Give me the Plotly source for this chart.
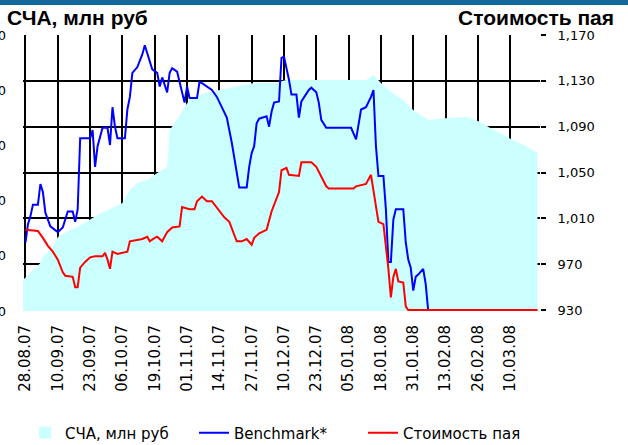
import plotly.graph_objects as go

# ---- data ----
nav_dates = ["2007-08-27","2007-08-30","2007-09-03","2007-09-04","2007-09-08","2007-09-10",
             "2007-09-15","2007-09-18","2007-09-24","2007-09-28","2007-10-02","2007-10-06",
             "2007-10-09","2007-10-12","2007-10-16","2007-10-20","2007-10-24","2007-10-25",
             "2007-10-28","2007-10-31","2007-11-02","2007-11-08","2007-11-14","2007-11-20",
             "2007-11-28","2007-12-06","2007-12-11","2007-12-29","2008-01-12","2008-01-15",
             "2008-01-18","2008-01-22","2008-01-27","2008-01-31","2008-02-06","2008-02-14",
             "2008-02-22","2008-02-27","2008-03-02","2008-03-06","2008-03-11","2008-03-17",
             "2008-03-21"]
nav_values = [281,344,435,489,580,670,734,761,842,897,933,978,1096,1159,1187,1250,1304,1640,
              1730,1848,1911,1975,2002,2029,2065,2065,2092,2092,2092,2138,2065,1984,1911,1820,
              1730,1748,1757,1712,1658,1612,1549,1486,1431]

bench_dates = ["2007-08-28","2007-08-29","2007-08-30","2007-08-31","2007-09-02","2007-09-03",
               "2007-09-04","2007-09-05","2007-09-07","2007-09-09","2007-09-10","2007-09-12",
               "2007-09-14","2007-09-16","2007-09-17","2007-09-18","2007-09-19","2007-09-23",
               "2007-09-24","2007-09-25","2007-09-26","2007-09-28","2007-09-30","2007-10-01",
               "2007-10-02","2007-10-03","2007-10-04","2007-10-07","2007-10-08","2007-10-09",
               "2007-10-10","2007-10-12","2007-10-14","2007-10-15","2007-10-16","2007-10-18",
               "2007-10-20","2007-10-21","2007-10-22","2007-10-24","2007-10-25","2007-10-26",
               "2007-10-28","2007-10-30","2007-10-31","2007-11-01","2007-11-02","2007-11-05",
               "2007-11-06","2007-11-07","2007-11-11","2007-11-13","2007-11-15","2007-11-17",
               "2007-11-19","2007-11-21","2007-11-22","2007-11-25","2007-11-26","2007-11-27",
               "2007-11-28","2007-11-29","2007-11-30","2007-12-03","2007-12-04","2007-12-05",
               "2007-12-06","2007-12-08","2007-12-09","2007-12-10","2007-12-11","2007-12-12",
               "2007-12-13","2007-12-15","2007-12-16","2007-12-17","2007-12-20","2007-12-21",
               "2007-12-23","2007-12-24","2007-12-25","2007-12-27","2008-01-06","2008-01-08",
               "2008-01-10","2008-01-12","2008-01-14","2008-01-15","2008-01-16","2008-01-17",
               "2008-01-19","2008-01-20","2008-01-21","2008-01-22","2008-01-23","2008-01-24",
               "2008-01-27","2008-01-28","2008-01-29","2008-01-30","2008-01-31","2008-02-01",
               "2008-02-02","2008-02-04","2008-02-05","2008-02-06"]
bench_values = [989,1005,1012,1022,1022,1040,1033,1015,1003,1000,998,1002,1016,1016,1007,1018,
                1080,1080,1087,1055,1073,1089,1089,1074,1107,1090,1080,1080,1105,1116,1137,1142,
                1153,1161,1154,1140,1137,1125,1133,1120,1137,1141,1138,1120,1111,1125,1115,1115,
                1129,1128,1122,1116,1107,1098,1076,1050,1037,1037,1055,1067,1073,1093,1097,1099,
                1090,1103,1111,1112,1150,1151,1142,1131,1118,1118,1098,1112,1122,1124,1120,1111,
                1096,1089,1089,1079,1105,1107,1116,1122,1073,1047,1047,1018,972,972,1009,1018,
                1018,989,974,967,947,959,961,966,953,930]

unit_dates = ["2007-08-28","2007-09-02","2007-09-04","2007-09-06","2007-09-08","2007-09-10",
              "2007-09-12","2007-09-13","2007-09-16","2007-09-17","2007-09-18","2007-09-19",
              "2007-09-21","2007-09-23","2007-09-25","2007-09-28","2007-09-29","2007-09-30",
              "2007-10-01","2007-10-02","2007-10-04","2007-10-08","2007-10-09","2007-10-14",
              "2007-10-16","2007-10-17","2007-10-19","2007-10-20","2007-10-22","2007-10-24",
              "2007-10-26","2007-10-29","2007-10-30","2007-11-02","2007-11-04","2007-11-05",
              "2007-11-07","2007-11-09","2007-11-11","2007-11-14","2007-11-16","2007-11-18",
              "2007-11-20","2007-11-21","2007-11-23","2007-11-25","2007-11-27","2007-11-28",
              "2007-11-30","2007-12-03","2007-12-05","2007-12-07","2007-12-08","2007-12-09",
              "2007-12-11","2007-12-12","2007-12-16","2007-12-17","2007-12-21","2007-12-23",
              "2007-12-25","2007-12-27","2007-12-28","2008-01-07","2008-01-08","2008-01-12",
              "2008-01-14","2008-01-15","2008-01-16","2008-01-17","2008-01-19","2008-01-20",
              "2008-01-21","2008-01-22","2008-01-23","2008-01-24","2008-01-25","2008-01-27",
              "2008-01-28","2008-01-29","2008-03-21"]
unit_values = [1000,999,993,986,981,974,963,960,959,950,950,967,972,976,977,977,980,974,966,
               981,979,981,990,992,994,990,993,994,990,998,1002,1003,1020,1018,1018,1025,1029,
               1025,1025,1016,1011,1007,996,990,990,992,987,993,997,1000,1016,1027,1033,1052,
               1054,1048,1047,1059,1059,1055,1046,1038,1036,1036,1038,1040,1048,1035,1020,1007,
               1005,986,966,941,959,966,955,954,933,930,930]

tick_dates = ["2007-08-28","2007-09-10","2007-09-23","2007-10-06","2007-10-19","2007-11-01",
              "2007-11-14","2007-11-27","2007-12-10","2007-12-23","2008-01-05","2008-01-18",
              "2008-01-31","2008-02-13","2008-02-26","2008-03-10"]
tick_labels = ["28.08.07","10.09.07","23.09.07","06.10.07","19.10.07","01.11.07","14.11.07",
               "27.11.07","10.12.07","23.12.07","05.01.08","18.01.08","31.01.08","13.02.08",
               "26.02.08","10.03.08"]
right_ticks = [930, 970, 1010, 1050, 1090, 1130, 1170]
right_labels = ["930", "970", "1,010", "1,050", "1,090", "1,130", "1,170"]
left_ticks = [0, 500, 1000, 1500, 2000, 2500]

NAV_NAME = "СЧА, млн руб"
BENCH_NAME = "Benchmark*"
UNIT_NAME = "Стоимость пая"

# ---- figure ----
W, H = 628, 445
ML, MR, MT, MB = 23, 88, 35, 134
PW, PH = W - ML - MR, H - MT - MB

def px_x(x):
    return (x - ML) / PW

def px_y(y):
    return (H - MB - y) / PH

fig = go.Figure()
fig.add_trace(go.Scatter(x=nav_dates, y=nav_values, mode="lines", fill="tozeroy",
                         fillcolor="#CCFFFF", line=dict(width=0, color="#CCFFFF"),
                         name=NAV_NAME, showlegend=False, yaxis="y"))
# legend swatch for the area series
fig.add_trace(go.Bar(x=[None], y=[None], name=NAV_NAME, marker_color="#CCFFFF",
                     marker_line_width=0, yaxis="y"))
fig.add_trace(go.Scatter(x=bench_dates, y=bench_values, mode="lines", name=BENCH_NAME,
                         line=dict(color="#0000FF", width=2), yaxis="y2"))
fig.add_trace(go.Scatter(x=unit_dates, y=unit_values, mode="lines", name=UNIT_NAME,
                         line=dict(color="#FF0000", width=2), yaxis="y2"))

tick_font = dict(family="DejaVu Sans", size=13, color="#000000")

fig.update_layout(
    width=W, height=H,
    margin=dict(l=ML, r=MR, t=MT, b=MB, pad=0, autoexpand=False),
    paper_bgcolor="white", plot_bgcolor="white",
    showlegend=True,
    legend=dict(orientation="h", x=px_x(25), xanchor="left", y=px_y(433), yanchor="middle",
                font=dict(family="DejaVu Sans", size=15, color="#000000"),
                entrywidth=124, entrywidthmode="pixels", traceorder="normal",
                bgcolor="rgba(0,0,0,0)"),
    xaxis=dict(type="date", range=["2007-08-27", "2008-03-22"], tickmode="array",
               tickvals=tick_dates, ticktext=tick_labels, tickangle=-90,
               tickfont=dict(family="DejaVu Sans", size=15, color="#000000"),
               showgrid=True, gridcolor="#000000", gridwidth=1.6, showline=False,
               zeroline=False, ticks="", ticklabelstandoff=10, automargin=False),
    yaxis=dict(range=[0, 2500], tickmode="array", tickvals=left_ticks,
               ticktext=[str(v) for v in left_ticks], showgrid=False, zeroline=False,
               showline=False, ticks="", tickfont=tick_font, ticklabelstandoff=16,
               automargin=False),
    yaxis2=dict(overlaying="y", side="right", range=[929.2, 1170], tickmode="array",
                tickvals=right_ticks, ticktext=right_labels, showgrid=True,
                gridcolor="#000000", gridwidth=1.6, zeroline=False, showline=False,
                ticks="outside", ticklen=5, tickwidth=2, tickcolor="#000000",
                tickfont=tick_font, ticklabelstandoff=9, automargin=False),
    shapes=[dict(type="rect", xref="paper", yref="paper", x0=px_x(-5), x1=px_x(W + 5),
                 y0=px_y(5), y1=px_y(-5), fillcolor="#11699A", line=dict(width=0),
                 layer="above")],
    annotations=[
        dict(text="<b>" + NAV_NAME + "</b>", xref="paper", yref="paper", x=px_x(5),
             y=px_y(18), xanchor="left", yanchor="middle", showarrow=False,
             font=dict(family="Liberation Sans", size=21, color="#000000")),
        dict(text="<b>" + UNIT_NAME + "</b>", xref="paper", yref="paper", x=px_x(616),
             y=px_y(18), xanchor="right", yanchor="middle", showarrow=False,
             font=dict(family="Liberation Sans", size=21, color="#000000")),
    ],
)

fig.write_html("out.html", config={"displayModeBar": False},
               post_script="document.body.style.margin='0px';")
